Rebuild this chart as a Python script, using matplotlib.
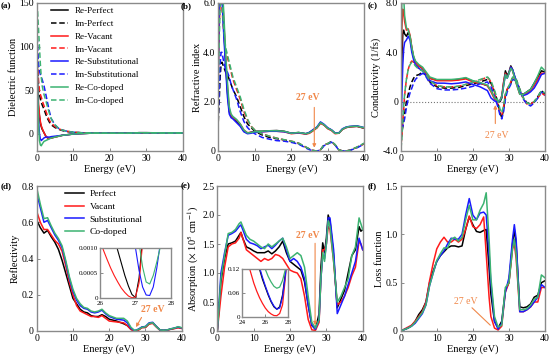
import matplotlib
matplotlib.use('Agg')
import matplotlib.pyplot as plt

plt.rcParams['font.family'] = ['Liberation Serif', 'DejaVu Serif']
plt.rcParams['mathtext.fontset'] = 'stix'

# ---------------- data ----------------
names = ['Perfect', 'Vacant', 'Substitutional', 'Co-doped']
colors = ['black', '#FF1A1A', '#1A1AFF', '#3CB371']
orange = '#F0884A'

x_ticks = [0, 10, 20, 30, 40]
x_ticklabels = ['0', '10', '20', '30', '40']

# (a) dielectric function
E_a = [0, 0.25, 0.5, 0.75, 1, 1.25, 1.5, 2, 2.5, 3, 3.5, 4, 5, 6, 7, 8, 10, 12, 15, 20, 25, 28, 30, 35, 40]
re_perfect = [60, 40, 30, 20, 12, 8, 5, 1, -3, -5, -5.5, -5, -4, -3, -2, -1.5, -0.5, 0, 0.5, 0.5, 0.5, 1, 1, 0.8, 0.8]
im_perfect = [120, 80, 55, 45, 40, 36, 33, 28, 22, 17, 13, 10, 7, 5, 3.5, 2.5, 1.5, 1, 0.8, 0.5, 0.4, 0.8, 0.8, 0.5, 0.5]
re_vacant = [110, 60, 35, 22, 14, 9, 6, 1, -3, -5, -5.5, -5, -4, -3, -2, -1.5, -0.5, 0, 0.5, 0.5, 0.5, 1, 1, 0.8, 0.8]
im_vacant = [140, 90, 60, 50, 45, 42, 38, 32, 26, 20, 15, 12, 8, 5.5, 4, 3, 1.5, 1, 0.8, 0.5, 0.4, 0.8, 0.8, 0.5, 0.5]
re_sub = [110, 50, 15, 0, -6, -8, -7, -5, -4, -4, -4, -3.5, -3, -2.5, -2, -1.5, -0.5, 0, 0.5, 0.5, 0.5, 1, 1, 0.8, 0.8]
im_sub = [130, 100, 80, 72, 68, 65, 62, 55, 45, 35, 25, 17, 10, 6, 4, 3, 1.5, 1, 0.8, 0.5, 0.4, 0.8, 0.8, 0.5, 0.5]
re_co = [150, 60, 10, -8, -13, -14, -12, -9, -8, -7, -6, -5, -4, -3, -2, -1.5, -0.5, 0, 0.5, 0.5, 0.5, 1, 1, 0.8, 0.8]
im_co = [150, 140, 120, 100, 80, 65, 55, 45, 38, 30, 23, 17, 10, 6, 4, 3, 1.5, 1, 0.8, 0.5, 0.4, 0.8, 0.8, 0.5, 0.5]
a_yticks = [0, 50, 100, 150]
a_yticklabels = ['0', '50', '100', '150']

# (b) refractive index (solid) and extinction (dashed)
E_b = [0, 0.25, 0.5, 0.75, 1, 1.5, 2, 2.5, 3, 3.5, 4, 5, 6, 7, 8, 9, 10, 12, 14, 16, 18, 20, 22, 24, 25, 26, 27, 28, 29, 30, 31, 32, 33, 34, 35, 36, 38, 40]
n_perfect = [4.0, 6.5, 7.5, 7.0, 6.5, 5.0, 3.6, 2.4, 1.6, 1.4, 1.35, 1.2, 1.05, 0.8, 0.72, 0.76, 0.8, 0.8, 0.82, 0.83, 0.8, 0.72, 0.75, 0.7, 0.75, 0.85, 0.95, 1.15, 1.05, 0.92, 0.85, 0.72, 0.72, 0.88, 0.95, 0.98, 1.0, 0.92]
n_vacant = [5.0, 7.0, 7.5, 7.2, 6.7, 5.3, 3.8, 2.6, 1.7, 1.45, 1.35, 1.25, 1.1, 0.85, 0.74, 0.76, 0.78, 0.78, 0.8, 0.8, 0.78, 0.7, 0.73, 0.68, 0.72, 0.82, 0.93, 1.12, 1.05, 0.9, 0.83, 0.7, 0.72, 0.87, 0.95, 0.98, 1.0, 0.93]
n_sub = [3.0, 6.0, 7.0, 6.8, 6.2, 4.7, 3.4, 2.2, 1.5, 1.35, 1.3, 1.15, 1.0, 0.78, 0.7, 0.72, 0.76, 0.78, 0.8, 0.8, 0.78, 0.72, 0.74, 0.7, 0.76, 0.87, 0.97, 1.18, 1.08, 0.94, 0.86, 0.73, 0.73, 0.9, 0.97, 1.0, 1.02, 0.95]
n_co = [6.0, 7.5, 8.0, 7.6, 7.0, 5.6, 4.0, 2.8, 1.8, 1.5, 1.4, 1.28, 1.1, 0.85, 0.73, 0.75, 0.78, 0.8, 0.82, 0.82, 0.8, 0.72, 0.75, 0.7, 0.74, 0.84, 0.95, 1.15, 1.06, 0.92, 0.85, 0.72, 0.72, 0.88, 0.96, 0.99, 1.01, 0.94]
k_perfect = [1.2, 2.0, 3.0, 3.5, 3.6, 3.4, 3.2, 3.1, 2.9, 2.7, 2.5, 2.2, 1.8, 1.4, 1.1, 0.95, 0.8, 0.65, 0.55, 0.5, 0.45, 0.38, 0.3, 0.15, 0.08, 0.02, 0.0, 0.05, 0.25, 0.3, 0.38, 0.25, 0.05, 0.0, 0.0, 0.03, 0.15, 0.3]
k_vacant = [3.0, 5.0, 6.0, 6.2, 5.8, 4.8, 4.0, 3.8, 3.5, 3.2, 2.9, 2.5, 2.1, 1.6, 1.25, 1.0, 0.85, 0.7, 0.6, 0.52, 0.45, 0.4, 0.32, 0.15, 0.07, 0.02, 0.0, 0.05, 0.25, 0.3, 0.38, 0.25, 0.05, 0.0, 0.0, 0.03, 0.15, 0.3]
k_sub = [1.5, 2.5, 3.5, 4.0, 4.0, 3.6, 3.3, 3.2, 3.0, 2.7, 2.5, 2.1, 1.6, 1.2, 0.95, 0.8, 0.7, 0.55, 0.48, 0.42, 0.4, 0.35, 0.28, 0.12, 0.05, 0.01, 0.0, 0.04, 0.22, 0.28, 0.36, 0.24, 0.04, 0.0, 0.0, 0.02, 0.13, 0.28]
k_co = [2.5, 4.5, 5.8, 6.3, 6.0, 5.0, 4.2, 3.9, 3.6, 3.3, 3.0, 2.6, 2.2, 1.7, 1.3, 1.0, 0.85, 0.7, 0.6, 0.52, 0.46, 0.4, 0.32, 0.16, 0.08, 0.02, 0.0, 0.05, 0.26, 0.3, 0.39, 0.26, 0.05, 0.0, 0.0, 0.03, 0.16, 0.32]
b_yticks = [0, 2, 4, 6]
b_yticklabels = ['0', '2.0', '4.0', '6.0']

# (c) conductivity, real (solid) and imaginary (dashed)
E_c = [0, 0.25, 0.5, 0.75, 1, 1.5, 2, 2.5, 3, 3.5, 4, 5, 6, 7, 8, 10, 12, 14, 16, 18, 20, 22, 24, 25, 26, 27, 27.5, 28, 28.5, 29, 29.5, 30, 30.5, 31, 32, 33, 34, 35, 36, 37, 38, 39, 40]
sr_perfect = [0.5, 3.5, 5.5, 5.8, 5.5, 5.3, 5.6, 5.3, 4.3, 3.6, 3.2, 2.9, 2.7, 2.3, 1.9, 1.75, 1.75, 1.75, 1.8, 1.9, 1.65, 1.5, 1.3, 0.9, 0.3, 0.05, 0.0, 0.3, 1.5, 2.5, 2.1, 2.4, 2.9, 2.6, 1.6, 0.7, 0.6, 0.8, 1.0, 1.5, 2.0, 2.5, 2.4]
sr_vacant = [2.0, 6.0, 7.5, 7.3, 6.5, 5.8, 5.9, 5.4, 4.4, 3.6, 3.2, 2.9, 2.7, 2.3, 1.9, 1.7, 1.7, 1.7, 1.75, 1.85, 1.6, 1.5, 1.3, 0.8, 0.2, 0.0, 0.1, 0.5, 1.6, 2.3, 2.0, 2.3, 2.8, 2.5, 1.5, 0.6, 0.6, 0.7, 0.9, 1.3, 1.8, 2.3, 2.3]
sr_sub = [-2.0, 0.5, 3.0, 4.3, 4.8, 5.0, 5.3, 5.0, 4.0, 3.4, 3.0, 2.7, 2.5, 2.1, 1.7, 1.5, 1.5, 1.45, 1.5, 1.6, 1.4, 1.2, 0.9, 0.3, 0.05, 0.0, 0.1, 0.4, 1.3, 2.2, 1.9, 2.3, 2.8, 2.6, 1.7, 0.7, 0.5, 0.6, 0.8, 1.1, 1.6, 2.2, 2.3]
sr_co = [3.0, 8.5, 9.0, 8.5, 7.0, 6.0, 5.8, 5.3, 4.4, 3.7, 3.3, 3.0, 2.8, 2.4, 2.0, 1.8, 1.8, 1.8, 1.85, 1.95, 1.7, 1.55, 1.35, 0.9, 0.3, 0.05, 0.1, 0.4, 1.3, 2.2, 1.9, 2.3, 2.7, 2.5, 1.5, 0.6, 0.6, 0.8, 1.0, 1.5, 2.1, 2.8, 2.5]
si_perfect = [-3.0, -2.5, -2.0, -1.5, -1.0, 0.0, 0.6, 1.2, 1.6, 1.9, 2.1, 2.2, 2.4, 2.1, 1.6, 1.2, 1.1, 1.1, 1.15, 1.3, 1.45, 1.6, 1.8, 1.5, 0.8, -0.2, -0.9, -1.3, -0.6, 0.5, 1.0, 1.2, 1.5, 1.9, 1.8, 1.0, 0.3, -0.1, -0.2, 0.0, 0.4, 0.9, 0.6]
si_vacant = [-3.5, -2.8, -1.5, -0.5, 0.5, 1.8, 2.6, 3.1, 3.3, 3.2, 3.0, 2.7, 2.5, 2.2, 1.7, 1.3, 1.2, 1.2, 1.25, 1.4, 1.55, 1.75, 2.0, 1.6, 0.7, -0.3, -0.9, -1.1, -0.4, 0.6, 1.0, 1.3, 1.6, 2.0, 1.7, 0.9, 0.2, -0.2, -0.2, 0.0, 0.3, 0.7, 0.5]
si_sub = [-2.2, -2.2, -2.0, -1.7, -1.4, -0.5, 0.2, 0.7, 1.1, 1.5, 1.8, 2.1, 2.3, 2.0, 1.5, 1.05, 0.95, 0.95, 1.0, 1.1, 1.25, 1.45, 1.6, 1.2, 0.4, -0.5, -1.1, -1.4, -0.8, 0.2, 0.8, 1.1, 1.4, 1.8, 1.7, 0.9, 0.2, -0.2, -0.35, -0.1, 0.3, 0.8, 0.5]
si_co = [-3.8, -3.0, -1.5, -0.3, 0.6, 1.8, 2.6, 3.0, 3.2, 3.1, 2.9, 2.6, 2.5, 2.2, 1.7, 1.3, 1.2, 1.2, 1.25, 1.4, 1.6, 1.8, 2.0, 1.7, 0.9, 0.0, -0.6, -0.9, -0.3, 0.6, 1.0, 1.3, 1.6, 2.0, 1.8, 1.0, 0.3, -0.1, -0.2, 0.0, 0.4, 0.9, 0.7]
c_yticks = [-4, 0, 4, 8]
c_yticklabels = ['-4.0', '0', '4.0', '8.0']

# (d) reflectivity
E_d = [0, 1, 2, 3, 4, 5, 6, 7, 8, 9, 10, 11, 12, 13, 14, 15, 16, 17, 18, 19, 20, 22, 24, 25, 26, 27, 28, 29, 30, 31, 32, 33, 34, 35, 36, 37, 38, 39, 40]
R_perfect = [0.612, 0.57, 0.54, 0.555, 0.52, 0.49, 0.45, 0.39, 0.32, 0.25, 0.18, 0.15, 0.12, 0.105, 0.10, 0.085, 0.08, 0.08, 0.09, 0.08, 0.065, 0.055, 0.04, 0.03, 0.01, 0.0, 0.005, 0.02, 0.02, 0.04, 0.045, 0.025, 0.005, 0.003, 0.005, 0.01, 0.015, 0.02, 0.015]
R_vacant = [0.66, 0.6, 0.56, 0.56, 0.53, 0.5, 0.48, 0.44, 0.36, 0.27, 0.2, 0.14, 0.11, 0.1, 0.09, 0.08, 0.08, 0.075, 0.085, 0.07, 0.055, 0.05, 0.045, 0.03, 0.008, 0.0, 0.004, 0.018, 0.02, 0.038, 0.042, 0.022, 0.004, 0.003, 0.005, 0.01, 0.013, 0.018, 0.014]
R_sub = [0.76, 0.68, 0.6, 0.61, 0.57, 0.53, 0.5, 0.46, 0.38, 0.29, 0.22, 0.17, 0.14, 0.125, 0.12, 0.105, 0.1, 0.105, 0.115, 0.095, 0.08, 0.065, 0.06, 0.045, 0.015, 0.002, 0.01, 0.022, 0.025, 0.045, 0.048, 0.025, 0.006, 0.004, 0.006, 0.012, 0.016, 0.022, 0.017]
R_co = [0.79, 0.7, 0.62, 0.625, 0.58, 0.54, 0.51, 0.47, 0.39, 0.3, 0.23, 0.18, 0.15, 0.13, 0.125, 0.11, 0.105, 0.11, 0.12, 0.1, 0.085, 0.07, 0.07, 0.055, 0.02, 0.003, 0.008, 0.02, 0.024, 0.042, 0.046, 0.024, 0.006, 0.004, 0.006, 0.012, 0.016, 0.024, 0.018]
d_yticks = [0, 0.2, 0.4, 0.6, 0.8]
d_yticklabels = ['0', '0.2', '0.4', '0.6', '0.8']
E_din = [26.0, 26.1, 26.2, 26.3, 26.4, 26.5, 26.6, 26.7, 26.8, 26.9, 27.0, 27.1, 27.2, 27.3, 27.4, 27.5, 27.6, 27.7, 27.8, 27.9, 28.0]
Rin_perfect = [0.003, 0.0025, 0.002, 0.0016, 0.0012, 0.00095, 0.0007, 0.00045, 0.00024, 0.00007, 0.00001, 0.0004, 0.0012, 0.002, 0.003, 0.004, 0.005, 0.006, 0.007, 0.008, 0.009]
Rin_vacant = [0.00115, 0.00095, 0.00077, 0.0006, 0.00045, 0.00032, 0.0002, 0.00011, 0.00004, 0.000005, 0.00002, 0.0003, 0.0011, 0.002, 0.003, 0.004, 0.005, 0.006, 0.007, 0.008, 0.009]
Rin_sub = [0.006, 0.0055, 0.005, 0.0045, 0.004, 0.0035, 0.003, 0.0026, 0.0022, 0.0016, 0.001, 0.00055, 0.00022, 0.00006, 0.00005, 0.00022, 0.0006, 0.0011, 0.0017, 0.0025, 0.0035]
Rin_co = [0.006, 0.0055, 0.005, 0.0045, 0.004, 0.0035, 0.003, 0.0026, 0.0023, 0.002, 0.0016, 0.0011, 0.00062, 0.00032, 0.00028, 0.00045, 0.00072, 0.00102, 0.0014, 0.0019, 0.0025]
din_xticks = [26, 27, 28]
din_yticks = [0, 0.0005, 0.001]
din_yticklabels = ['0', '0.0005', '0.0010']

# (e) absorption
E_e = [0, 1, 2, 3, 4, 5, 6, 6.5, 7, 8, 9, 10, 11, 12, 13, 14, 15, 16, 17, 18, 19, 20, 21, 22, 23, 24, 25, 26, 27, 28, 28.5, 29, 29.5, 30, 30.5, 31, 32, 33, 34, 35, 36, 37, 38, 39, 39.5, 40]
A_perfect = [0, 0.85, 1.25, 1.5, 1.52, 1.55, 1.65, 1.7, 1.6, 1.45, 1.42, 1.38, 1.35, 1.35, 1.35, 1.38, 1.33, 1.38, 1.45, 1.55, 1.35, 1.2, 1.15, 1.1, 1.05, 0.85, 0.45, 0.1, 0.03, 0.3, 1.1, 1.52, 1.35, 1.6, 2.0, 1.9, 1.3, 0.4, 0.55, 0.7, 1.0, 1.3, 1.4, 1.8, 1.72, 1.75]
A_vacant = [0, 0.6, 1.1, 1.45, 1.5, 1.52, 1.6, 1.7, 1.6, 1.4, 1.35, 1.3, 1.25, 1.2, 1.25, 1.22, 1.25, 1.32, 1.3, 1.25, 1.15, 1.05, 1.02, 1.0, 0.9, 0.6, 0.2, 0.02, 0.01, 0.15, 0.9, 1.4, 1.4, 1.5, 1.8, 1.75, 1.2, 0.45, 0.5, 0.6, 0.75, 0.95, 1.1, 1.55, 1.5, 1.4]
A_sub = [0, 1.0, 1.35, 1.65, 1.68, 1.72, 1.8, 1.83, 1.75, 1.58, 1.52, 1.5, 1.47, 1.42, 1.45, 1.48, 1.42, 1.48, 1.55, 1.6, 1.4, 1.2, 1.25, 1.2, 1.1, 0.9, 0.45, 0.1, 0.03, 0.2, 0.9, 1.3, 1.25, 1.5, 1.95, 1.95, 1.4, 0.3, 0.45, 0.6, 0.8, 1.0, 1.2, 1.6, 1.5, 1.4]
A_co = [0, 0.9, 1.3, 1.68, 1.7, 1.75, 1.85, 1.88, 1.8, 1.65, 1.58, 1.55, 1.5, 1.45, 1.42, 1.5, 1.45, 1.5, 1.55, 1.6, 1.45, 1.25, 1.3, 1.35, 1.3, 1.1, 0.6, 0.15, 0.05, 0.2, 0.9, 1.35, 1.2, 1.5, 1.9, 1.8, 1.2, 0.5, 0.6, 0.75, 0.9, 1.3, 1.45, 1.95, 1.85, 1.75]
e_yticks = [0, 0.5, 1.0, 1.5, 2.0, 2.5]
e_yticklabels = ['0', '0.5', '1.0', '1.5', '2.0', '2.5']
E_ein = [24.5, 24.75, 25.0, 25.25, 25.5, 25.75, 26.0, 26.25, 26.5, 26.75, 27.0, 27.25, 27.5, 27.75, 28.0]
Ain_perfect = [0.25, 0.22, 0.19, 0.15, 0.12, 0.095, 0.075, 0.055, 0.038, 0.025, 0.019, 0.025, 0.055, 0.11, 0.2]
Ain_vacant = [0.135, 0.11, 0.085, 0.065, 0.048, 0.034, 0.022, 0.013, 0.007, 0.003, 0.0025, 0.008, 0.03, 0.1, 0.2]
Ain_sub = [0.26, 0.23, 0.2, 0.16, 0.125, 0.1, 0.078, 0.058, 0.04, 0.027, 0.019, 0.022, 0.05, 0.105, 0.2]
Ain_co = [0.3, 0.26, 0.22, 0.19, 0.16, 0.14, 0.12, 0.102, 0.088, 0.077, 0.072, 0.075, 0.092, 0.12, 0.17]
ein_xticks = [24, 26, 28]
ein_yticks = [0, 0.06, 0.12]
ein_yticklabels = ['0', '0.06', '0.12']

# (f) loss function
E_f = [0, 1, 2, 3, 4, 5, 6, 7, 8, 9, 10, 11, 12, 13, 14, 15, 16, 17, 18, 19, 20, 21, 22, 23, 23.7, 24.5, 25, 26, 27, 28, 29, 30, 31, 31.5, 32, 33, 34, 35, 36, 37, 38, 39, 40]
L_perfect = [0, 0.015, 0.03, 0.055, 0.1, 0.17, 0.22, 0.3, 0.5, 0.62, 0.72, 0.78, 0.82, 0.86, 0.88, 0.88, 0.87, 0.88, 1.05, 1.18, 1.1, 1.03, 1.02, 1.04, 1.05, 0.65, 0.38, 0.1, 0.03, 0.1, 0.42, 0.5, 0.9, 1.05, 0.9, 0.25, 0.24, 0.25, 0.28, 0.35, 0.37, 0.5, 0.52]
L_vacant = [0, 0.02, 0.04, 0.06, 0.1, 0.15, 0.2, 0.3, 0.52, 0.7, 0.85, 0.92, 0.97, 0.92, 0.92, 0.95, 0.92, 0.95, 1.05, 1.19, 1.08, 1.06, 1.1, 1.18, 0.8, 0.35, 0.15, 0.03, 0.01, 0.05, 0.4, 0.5, 0.85, 0.9, 0.75, 0.2, 0.2, 0.22, 0.25, 0.3, 0.3, 0.45, 0.45]
L_sub = [0, 0.015, 0.03, 0.05, 0.08, 0.13, 0.18, 0.27, 0.47, 0.6, 0.72, 0.78, 0.83, 0.9, 0.96, 0.95, 0.95, 1.0, 1.2, 1.37, 1.2, 1.15, 1.22, 1.23, 1.2, 0.8, 0.5, 0.1, 0.02, 0.08, 0.4, 0.55, 0.95, 1.1, 0.95, 0.2, 0.2, 0.22, 0.25, 0.3, 0.35, 0.48, 0.45]
L_co = [0, 0.015, 0.03, 0.05, 0.09, 0.14, 0.19, 0.27, 0.47, 0.6, 0.73, 0.8, 0.86, 0.86, 0.95, 0.97, 0.93, 0.97, 1.15, 1.3, 1.15, 1.15, 1.25, 1.32, 1.43, 0.95, 0.55, 0.15, 0.04, 0.06, 0.45, 0.5, 0.85, 0.95, 0.8, 0.22, 0.22, 0.23, 0.27, 0.33, 0.35, 0.58, 0.55]
f_yticks = [0, 0.5, 1.0, 1.5]
f_yticklabels = ['0', '0.5', '1.0', '1.5']

# ---------------- drawing ----------------
W, H = 554, 356
fig = plt.figure(figsize=(W / 100, H / 100), dpi=100)

def px_axes(l, t, r, b):
    return fig.add_axes([l / W, 1 - b / H, (r - l) / W, (b - t) / H])

spine_c = '#8a8a8a'
lw = 1.1
dash = (3.6, 1.8)

def style(ax, ylim, yt, ytl, ylabel, xlim=(0, 40), xt=x_ticks, xtl=x_ticklabels, fs=7, labels=True):
    ax.set_xlim(*xlim)
    ax.set_ylim(*ylim)
    ax.set_xticks(xt)
    ax.set_xticklabels(xtl)
    ax.set_yticks(yt)
    ax.set_yticklabels(ytl)
    for s in ax.spines.values():
        s.set_color(spine_c)
        s.set_linewidth(1.0)
    ax.tick_params(direction='in', length=2, width=0.7, color=spine_c, labelsize=fs, pad=2)
    if labels:
        ax.set_xlabel('Energy (eV)', fontsize=7.5, labelpad=1)
        ax.set_ylabel(ylabel, fontsize=7.5, labelpad=1)

# (a)
ax = px_axes(36.7, 3, 182.7, 151)
re_list = [re_perfect, re_vacant, re_sub, re_co]
im_list = [im_perfect, im_vacant, im_sub, im_co]
for nm, c, re, im in zip(names, colors, re_list, im_list):
    ax.plot(E_a, re, color=c, lw=lw, label='Re-' + nm)
    ax.plot(E_a, im, color=c, lw=lw, dashes=dash, label='Im-' + nm)
style(ax, (-20, 150), a_yticks, a_yticklabels, 'Dielectric function')
ax.legend(loc='upper left', bbox_to_anchor=(0.07, 1.0), frameon=False, fontsize=6.6,
          handlelength=1.9, handletextpad=0.7, labelspacing=0.48, borderaxespad=0.2, borderpad=0.2)

# (b)
ax = px_axes(218.3, 3, 364.3, 151)
for c, n_, k_ in zip(colors, [n_perfect, n_vacant, n_sub, n_co], [k_perfect, k_vacant, k_sub, k_co]):
    ax.plot(E_b, n_, color=c, lw=lw)
    ax.plot(E_b, k_, color=c, lw=lw, dashes=dash)
style(ax, (0, 6), b_yticks, b_yticklabels, 'Refractive index')
ax.text(24.6, 2.15, '27 eV', color=orange, fontsize=7, fontweight='bold', ha='center', va='center')
ax.annotate('', xy=(26.3, 0.02), xytext=(26.3, 1.88),
            arrowprops=dict(arrowstyle='-|>', color=orange, lw=0.8, mutation_scale=5))

# (c)
ax = px_axes(401, 3, 545, 151)
ax.axhline(0, color='#777777', ls=':', lw=0.8)
for c, r_, i_ in zip(colors, [sr_perfect, sr_vacant, sr_sub, sr_co], [si_perfect, si_vacant, si_sub, si_co]):
    ax.plot(E_c, r_, color=c, lw=lw)
    ax.plot(E_c, i_, color=c, lw=lw, dashes=dash)
style(ax, (-4, 8), c_yticks, c_yticklabels, 'Conductivity (1/fs)')
ax.text(26.6, -2.75, '27 eV', color=orange, fontsize=7, ha='center', va='center')
ax.annotate('', xy=(26.2, -0.05), xytext=(26.2, -2.0),
            arrowprops=dict(arrowstyle='-|>', color=orange, lw=0.8, mutation_scale=5))

# (d)
ax = px_axes(36.7, 186, 181.7, 331)
for nm, c, r_ in zip(names, colors, [R_perfect, R_vacant, R_sub, R_co]):
    ax.plot(E_d, r_, color=c, lw=lw, label=nm)
style(ax, (0, 0.8), d_yticks, d_yticklabels, 'Reflectivity')
ax.legend(loc='upper left', bbox_to_anchor=(0.17, 1.0), frameon=False, fontsize=6.8,
          handlelength=2.0, handletextpad=0.6, labelspacing=0.42, borderaxespad=0.2, borderpad=0.2)
ax.text(32.0, 0.118, '27 eV', color=orange, fontsize=7, fontweight='bold', ha='center', va='center')
ax.annotate('', xy=(27.0, 0.008), xytext=(29.3, 0.088),
            arrowprops=dict(arrowstyle='-|>', color=orange, lw=0.8, mutation_scale=5))
axi = px_axes(100, 248, 171, 298)
for c, r_ in zip(colors, [Rin_perfect, Rin_vacant, Rin_sub, Rin_co]):
    axi.plot(E_din, r_, color=c, lw=0.8)
style(axi, (0, 0.001), din_yticks, din_yticklabels, '', xlim=(26, 28), xt=din_xticks,
      xtl=[str(v) for v in din_xticks], fs=5, labels=False)
axi.tick_params(axis='x', pad=2.5)
axi.tick_params(axis='y', pad=1.5)

# (e)
ax = px_axes(217.3, 186, 362.7, 331)
for c, a_ in zip(colors, [A_perfect, A_vacant, A_sub, A_co]):
    ax.plot(E_e, a_, color=c, lw=lw)
style(ax, (0, 2.5), e_yticks, e_yticklabels, 'Absorption ($\\times$ 10$^{5}$ cm$^{-1}$)')
ax.text(24.9, 1.65, '27 eV', color=orange, fontsize=7, fontweight='bold', ha='center', va='center')
ax.annotate('', xy=(26.9, 0.05), xytext=(26.9, 1.56),
            arrowprops=dict(arrowstyle='-|>', color=orange, lw=0.8, mutation_scale=5))
axi = px_axes(242.3, 269.3, 288.3, 316.7)
for c, a_ in zip(colors, [Ain_perfect, Ain_vacant, Ain_sub, Ain_co]):
    axi.plot(E_ein, a_, color=c, lw=0.9)
style(axi, (0, 0.12), ein_yticks, ein_yticklabels, '', xlim=(24, 28), xt=ein_xticks,
      xtl=[str(v) for v in ein_xticks], fs=5, labels=False)
axi.tick_params(axis='x', pad=2.5)
axi.tick_params(axis='y', pad=1.5)

# (f)
ax = px_axes(400.7, 186, 545, 331)
for c, l_ in zip(colors, [L_perfect, L_vacant, L_sub, L_co]):
    ax.plot(E_f, l_, color=c, lw=lw)
style(ax, (0, 1.5), f_yticks, f_yticklabels, 'Loss function')
ax.text(18.0, 0.31, '27 eV', color=orange, fontsize=7, ha='center', va='center')
ax.annotate('', xy=(25.4, 0.04), xytext=(19.2, 0.26),
            arrowprops=dict(arrowstyle='-', color=orange, lw=0.8))

# panel letters
for lab, x, y in [('(a)', 1, 6), ('(b)', 181, 6), ('(c)', 368, 6),
                  ('(d)', 1, 186), ('(e)', 181, 186), ('(f)', 368, 186)]:
    fig.text(x / W, 1 - y / H, lab, fontsize=6.5, fontweight='bold', ha='left', va='center')

fig.savefig('out.png', dpi=100)
